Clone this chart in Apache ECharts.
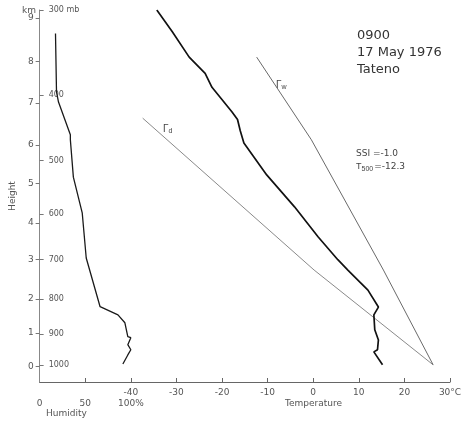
<!DOCTYPE html>
<html>
<head>
<meta charset="utf-8">
<script src="https://cdn.jsdelivr.net/npm/echarts@6/dist/echarts.min.js"></script>
<style>
  html, body { margin: 0; padding: 0; background: #fff; }
  #chart { width: 467px; height: 424px; }
</style>
</head>
<body>
<div id="chart"></div>
<script>
// sounding, pressure (mb) on a log axis
var tempPressure = [300, 323, 352, 372, 390, 424, 435, 452, 471, 525, 585, 648, 700, 725, 776, 822, 844, 888, 919, 950, 957, 1000];
var tempValues   = [-34.3, -30.9, -27.2, -23.7, -22.2, -17.8, -16.6, -16.0, -15.2, -10.2, -4.1, 1.1, 5.4, 7.6, 12.0, 14.3, 13.3, 13.5, 14.3, 14.1, 13.3, 15.2];

var humPressure = [325, 396, 410, 458, 466, 529, 597, 696, 821, 844, 867, 909, 912, 934, 950, 967, 997];
var humValues   = [17.4, 18.5, 20.7, 33.7, 33.7, 37, 46.7, 51.1, 66.3, 85.9, 93.5, 96.7, 100, 96.7, 100, 96.7, 91.3];

var dryPressure = [433, 725, 1000];
var dryValues   = [-37.4, 0.2, 26.3];

var wetPressure = [352, 466, 725, 1000];
var wetValues   = [-12.4, -0.4, 15.4, 26.3];

var mbTicks = [1000, 900, 800, 700, 600, 500, 400, 300];
var kmTicks = [1005, 897, 800, 700, 618, 540, 474, 411, 357, 308];
var kmLabels = ['0', '1', '2', '3', '4', '5', '6', '7', '8', '9'];
var tempTicks = [-40, -30, -20, -10, 0, 10, 20, 30];
var humTicks = [0, 50, 100];

function zip(xs, ys) {
  return xs.map(function (x, i) { return [x, ys[i]]; });
}

var chart = echarts.init(document.getElementById('chart'));
var textColor = '#555';
var font = 'DejaVu Sans';

var option = {
  backgroundColor: '#fff',
  animation: false,
  grid: { left: 36, right: 17, top: 10, bottom: 42 },
  xAxis: [
    {
      type: 'value', min: -60, max: 30,
      axisLine: { show: true, onZero: false, lineStyle: { color: '#666', width: 1 } },
      axisTick: { show: true, inside: true, length: 4, customValues: tempTicks, lineStyle: { color: '#666' } },
      axisLabel: {
        customValues: tempTicks, margin: 6, color: textColor, fontSize: 9, fontFamily: font,
        formatter: function (v) { return v === 30 ? '30°C' : String(v); }
      },
      splitLine: { show: false }
    },
    {
      type: 'value', min: 0, max: 450, position: 'bottom', offset: 0,
      axisLine: { show: false, onZero: false },
      axisTick: { show: true, inside: true, length: 4, customValues: [50], lineStyle: { color: '#666' } },
      axisLabel: {
        customValues: humTicks, margin: 17, color: textColor, fontSize: 9, fontFamily: font,
        formatter: function (v) { return v === 100 ? '100%' : String(v); }
      },
      splitLine: { show: false }
    }
  ],
  yAxis: [
    {
      type: 'log', min: 300, max: 1060, inverse: true, position: 'left',
      name: 'Height', nameLocation: 'middle', nameGap: 19,
      nameTextStyle: { color: textColor, fontSize: 9, fontFamily: font },
      axisLine: { show: true, onZero: false, lineStyle: { color: '#888', width: 1 } },
      axisTick: { show: true, length: 4, customValues: kmTicks, lineStyle: { color: '#777' } },
      axisLabel: {
        customValues: kmTicks, margin: 6, color: textColor, fontSize: 9, fontFamily: font,
        formatter: function (v) {
          var i = kmTicks.indexOf(v);
          return i >= 0 ? kmLabels[i] : '';
        }
      },
      splitLine: { show: false }
    },
    {
      type: 'log', min: 300, max: 1060, inverse: true, position: 'left',
      axisLine: { show: false, onZero: false },
      axisTick: { show: true, inside: true, length: 4, customValues: mbTicks, lineStyle: { color: '#777' } },
      axisLabel: {
        customValues: mbTicks, inside: true, margin: 9, color: textColor, fontSize: 8, fontFamily: font,
        formatter: function (v) { return v === 300 ? '300 mb' : String(v); }
      },
      splitLine: { show: false }
    }
  ],
  series: [
    {
      name: 'Temperature', type: 'line', xAxisIndex: 0, yAxisIndex: 0,
      data: zip(tempValues, tempPressure), showSymbol: false, symbol: 'none',
      lineStyle: { color: '#111', width: 1.7 }, z: 5
    },
    {
      name: 'Humidity', type: 'line', xAxisIndex: 1, yAxisIndex: 0,
      data: zip(humValues, humPressure), showSymbol: false, symbol: 'none',
      lineStyle: { color: '#1a1a1a', width: 1.3 }, z: 5
    },
    {
      name: 'Dry adiabat', type: 'line', xAxisIndex: 0, yAxisIndex: 0,
      data: zip(dryValues, dryPressure), showSymbol: false, symbol: 'none',
      lineStyle: { color: '#8a8a8a', width: 1 }
    },
    {
      name: 'Moist adiabat', type: 'line', xAxisIndex: 0, yAxisIndex: 0,
      data: zip(wetValues, wetPressure), showSymbol: false, symbol: 'none',
      lineStyle: { color: '#6a6a6a', width: 1 }
    }
  ],
  graphic: [
    { type: 'text', left: 22, top: 6, style: { text: 'km', fill: textColor, fontSize: 9, fontFamily: font } },
    { type: 'text', left: 357, top: 27, style: { text: '0900\n17 May 1976\nTateno', fill: '#333', fontSize: 13, lineHeight: 17, fontFamily: font } },
    { type: 'text', left: 356, top: 147, style: {
        text: 'SSI =-1.0\n{t|T}{s|500}=-12.3', fill: '#444', fontSize: 9, lineHeight: 13, fontFamily: font,
        rich: { t: { fontSize: 9, fill: '#444' }, s: { fontSize: 7, fill: '#444', padding: [5, 1, 0, 0] } }
      } },
    { type: 'text', left: 163, top: 124, style: {
        text: '{g|Γ}{s|d}', rich: { g: { fontSize: 10, fill: '#444' }, s: { fontSize: 7, fill: '#444', padding: [5, 0, 0, 0] } }
      } },
    { type: 'text', left: 276, top: 80, style: {
        text: '{g|Γ}{s|w}', rich: { g: { fontSize: 10, fill: '#444' }, s: { fontSize: 7, fill: '#444', padding: [5, 0, 0, 0] } }
      } },
    { type: 'text', left: 46, top: 409, style: { text: 'Humidity', fill: textColor, fontSize: 9, fontFamily: font } },
    { type: 'text', left: 285, top: 399, style: { text: 'Temperature', fill: textColor, fontSize: 9, fontFamily: font } }
  ]
};

chart.setOption(option);
</script>
</body>
</html>
